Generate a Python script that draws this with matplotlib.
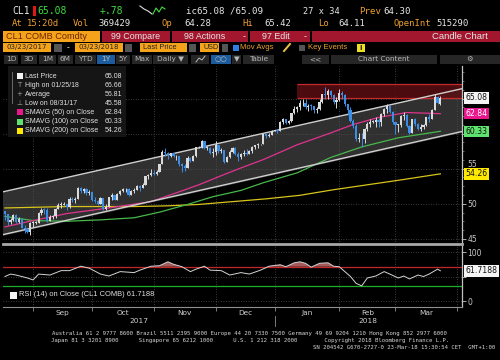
#!/usr/bin/env python3
# -*- coding: utf-8 -*-
"""
CL1 COMB Comdty candle chart, Bloomberg terminal style
"""
import matplotlib
matplotlib.use("Agg")
import matplotlib.pyplot as plt
import matplotlib.transforms as mtrans
from matplotlib.patches import Rectangle
import numpy as np
import pandas as pd

# ---- data -----------------------------------------------------------------
start_day = "2017-08-18"
end_axis_day = "2018-04-06"

# daily closes, one list per month
close_aug = [48.51, 47.37, 47.64, 48.41, 47.43, 47.87, 46.57, 46.44, 45.96, 47.23]
close_sep = [47.29, 47.29, 48.66, 49.16, 49.09, 47.48, 48.07, 48.23, 49.30, 49.89, 49.89,
             49.91, 49.48, 50.69, 50.55, 50.66, 52.22, 51.88, 52.14, 51.56, 51.67]
close_oct = [50.58, 50.42, 49.98, 50.79, 49.29, 49.58, 50.92, 51.30, 50.60, 51.45, 51.87,
             52.04, 52.04, 51.29, 51.84, 51.90, 52.47, 52.18, 52.64, 53.90, 54.15, 54.38]
close_nov = [54.30, 54.54, 55.64, 57.35, 57.20, 56.81, 57.17, 56.74, 56.76, 55.70, 55.33,
             55.14, 56.55, 56.09, 56.83, 58.02, 58.02, 58.95, 57.99, 57.99, 57.30, 57.40]
close_dec = [58.36, 57.47, 57.62, 55.96, 56.69, 57.36, 57.99, 57.14, 56.60, 57.04, 57.30,
             57.16, 57.46, 58.09, 58.36, 58.47, 58.47, 59.97, 59.64, 59.84, 60.42]
close_jan = [60.42, 60.37, 61.63, 62.01, 61.44, 61.73, 62.96, 63.57, 63.80, 64.30, 64.30,
             63.73, 63.97, 63.95, 63.37, 63.57, 64.47, 65.61, 65.51, 66.14, 65.56, 64.50, 64.73]
close_feb = [65.80, 65.45, 64.15, 63.39, 61.79, 61.15, 59.20, 59.29, 59.19, 60.60, 61.34,
             61.68, 61.68, 61.90, 61.68, 62.77, 63.55, 63.91, 63.01, 61.64]
close_mar = [61.25, 61.25, 62.57, 62.60, 61.15, 60.12, 62.04, 61.36, 60.71, 60.96, 61.19,
             62.34, 62.06, 63.40, 65.17, 64.30, 65.08]

high_aug = [48.75, 48.6, 47.9, 48.6, 48.5, 48.1, 47.9, 46.9, 46.6, 47.4]
high_sep = [47.6, 47.5, 48.8, 49.4, 49.4, 49.4, 48.4, 48.4, 49.4, 50.1, 50.2,
            50.3, 49.9, 50.9, 51.0, 51.0, 52.4, 52.4, 52.3, 52.2, 51.9]
high_oct = [51.7, 50.9, 50.6, 50.9, 50.7, 49.9, 51.0, 51.6, 51.3, 51.6, 52.0,
            52.3, 52.3, 52.3, 52.0, 52.3, 52.6, 52.7, 52.9, 54.0, 54.2, 54.9]
high_nov = [54.8, 54.8, 55.7, 57.7, 57.9, 57.4, 57.3, 57.3, 57.0, 56.8, 55.8,
            55.6, 56.8, 56.6, 56.9, 58.1, 58.3, 59.1, 59.0, 58.3, 58.1, 57.9]
high_dec = [58.9, 58.3, 57.9, 57.7, 56.8, 57.7, 58.1, 58.1, 57.4, 57.3, 57.6,
            57.8, 57.7, 58.2, 58.4, 58.6, 58.5, 60.0, 60.1, 60.1, 60.5]
high_jan = [60.5, 60.7, 61.8, 62.2, 62.0, 61.9, 63.0, 64.0, 64.0, 64.8, 64.9,
            64.9, 64.2, 64.2, 64.0, 63.8, 64.9, 65.7, 66.66, 66.4, 66.2, 65.6, 65.2]
high_feb = [66.3, 66.0, 65.7, 64.2, 63.8, 62.1, 61.4, 60.1, 60.1, 60.8, 61.6,
            62.1, 61.9, 62.3, 62.2, 62.9, 63.7, 64.2, 64.0, 63.2]
high_mar = [61.7, 61.4, 62.7, 63.1, 62.8, 61.2, 62.1, 62.2, 61.5, 61.3, 61.4,
            62.4, 62.8, 63.5, 65.7, 65.3, 65.42]

low_aug = [47.7, 47.0, 47.1, 47.6, 47.3, 47.3, 46.5, 45.9, 45.8, 45.58]
low_sep = [46.7, 47.1, 47.2, 48.4, 48.6, 47.4, 47.6, 47.8, 48.0, 49.2, 49.4,
           49.8, 49.1, 49.4, 50.2, 50.1, 50.7, 51.5, 51.6, 51.3, 51.3]
low_oct = [50.4, 50.1, 49.8, 49.9, 49.1, 49.1, 49.5, 50.6, 50.5, 50.6, 51.3,
           51.7, 51.7, 51.1, 51.2, 51.6, 51.9, 51.8, 52.2, 52.6, 53.5, 54.0]
low_nov = [54.1, 54.1, 54.5, 55.6, 56.8, 56.4, 56.6, 56.6, 56.3, 55.4, 54.5,
           54.7, 55.1, 56.0, 56.1, 56.7, 57.9, 57.9, 57.8, 57.6, 57.1, 56.7]
low_dec = [57.0, 57.3, 57.3, 55.8, 55.9, 56.5, 57.2, 57.0, 56.1, 56.4, 56.8,
           57.0, 57.1, 57.3, 57.8, 57.9, 58.4, 58.5, 59.4, 59.5, 59.8]
low_jan = [60.3, 60.1, 60.3, 61.4, 61.3, 61.3, 61.6, 62.8, 63.1, 63.4, 64.0,
           63.5, 63.2, 63.4, 63.0, 63.0, 63.4, 64.4, 64.9, 65.0, 65.2, 64.2, 63.7]
low_feb = [64.6, 65.0, 64.0, 62.7, 61.6, 60.8, 58.9, 58.8, 58.1, 58.7, 60.3,
           61.0, 61.5, 61.0, 61.0, 61.1, 62.5, 63.0, 62.9, 61.4]
low_mar = [60.0, 60.2, 61.0, 62.0, 61.0, 59.9, 60.1, 61.1, 60.5, 60.4, 60.7,
           61.1, 61.6, 62.1, 63.3, 64.2, 64.11]

first_open = 48.9
last_open = 64.28

# moving averages read at sample trading days (index from start_day)
sma50_day = [0, 10, 22, 37, 52, 62, 69, 77, 84, 92, 104, 116, 124, 133, 143, 155]
sma50_val = [46.7, 47.6, 48.6, 49.4, 50.3, 51.7, 52.7, 54.0, 55.1, 56.3, 58.4, 60.1,
             61.3, 62.3, 63.0, 62.84]
sma100_day = [0, 10, 22, 34, 46, 55, 65, 74, 84, 92, 104, 116, 127, 140, 155]
sma100_val = [48.2, 47.6, 47.5, 47.7, 48.0, 48.8, 49.9, 51.0, 51.9, 53.0, 54.4, 56.6,
              58.1, 59.4, 60.33]
sma200_day = [0, 22, 46, 58, 69, 81, 93, 105, 117, 129, 141, 155]
sma200_val = [49.4, 49.6, 49.6, 49.7, 49.9, 50.3, 50.7, 51.2, 52.0, 52.7, 53.4, 54.26]

# RSI(14) read at sample trading days
rsi_day = [0, 2, 4, 8, 10, 12, 16, 20, 23, 27, 30, 34, 37, 41, 46, 48, 52, 55, 58, 60,
           63, 66, 68, 71, 73, 77, 80, 84, 87, 91, 94, 98, 100, 103, 105, 107, 109, 112,
           115, 117, 119, 123, 125, 127, 129, 132, 135, 137, 140, 142, 144, 147, 149,
           151, 154, 155]
rsi_val = [50, 55, 53, 47, 43, 55, 53, 62, 62, 71, 67, 55, 51, 60, 58, 63, 71, 72, 80, 75,
           70, 60, 65, 71, 63, 62, 53, 58, 55, 63, 71, 74, 70, 78, 80, 77, 69, 77,
           78, 71, 70, 50, 36, 31, 47, 51, 60, 55, 47, 51, 45, 53, 50,
           55, 65, 61.72]

# trend channel (start / end trading day and price of lower and upper line)
channel_day = [-0.7, 162.7]
channel_low = [45.6, 60.3]
channel_high = [51.7, 66.4]

# red resistance zone
zone_day = 104
zone_low, zone_high = 65.1, 67.1

last_price, sma50_last, sma100_last, sma200_last = 65.08, 62.84, 60.33, 54.26
rsi_last = 61.7188
price_ticks = [45, 50, 55, 60, 65]
price_labels = ["45", "50", "55", "", ""]   # 60 and 65 sit under the value tags
rsi_ticks = [0, 50, 100]
rsi_labels = ["0", "", "100"]               # 50 sits under the RSI tag

closes = np.array(close_aug + close_sep + close_oct + close_nov + close_dec
                  + close_jan + close_feb + close_mar)
highs = np.array(high_aug + high_sep + high_oct + high_nov + high_dec
                 + high_jan + high_feb + high_mar)
lows = np.array(low_aug + low_sep + low_oct + low_nov + low_dec
                + low_jan + low_feb + low_mar)
opens = np.r_[first_open, closes[:-1]]
opens[-1] = last_open
highs = np.maximum(highs, np.maximum(opens, closes))
lows = np.minimum(lows, np.minimum(opens, closes))

axis_days = pd.bdate_range(start_day, end_axis_day)
days = np.arange(len(closes))
month_start = [i for i in range(1, len(axis_days))
               if axis_days[i].month != axis_days[i - 1].month]
month_names = [axis_days[i].strftime("%b") for i in month_start[:-1]]

# ---- colours ----------------------------------------------------------------
AMBER = "#f0a030"
CRIMSON = "#a3172e"
GRID = "#505050"
UP = "#dadada"
DOWN = "#3a8ee6"
PINK = "#e0338e"
GREEN = "#47b84a"
YELLOW = "#d8c41c"

fig = plt.figure(figsize=(5, 3.6), dpi=100, facecolor="black")
XLIM = (-0.7, 162.7)

# ---- price panel ----------------------------------------------------------
ax = fig.add_axes([0.006, 0.3222, 0.918, 0.4944], facecolor="black")
ax.set_xlim(*XLIM)
ax.set_ylim(44.26, 69.63)

ax.fill_between(channel_day, channel_low, channel_high, color="#303030", zorder=1)
for p in price_ticks:
    ax.axhline(p, color=GRID, lw=0.6, ls=(0, (1, 2)), zorder=1.5)
for m in month_start:
    ax.axvline(m, color=GRID, lw=0.6, ls=(0, (1, 2)), zorder=1.5)

ax.add_patch(Rectangle((zone_day, zone_low), XLIM[1] - zone_day, zone_high - zone_low,
                       fc="#5a0f12", ec="none", alpha=0.85, zorder=1.6))
ax.hlines([zone_low, zone_high], zone_day, XLIM[1], color="#c42a2c", lw=0.9, zorder=1.7)

ax.plot(sma200_day, sma200_val, color=YELLOW, lw=0.9, zorder=2)
ax.plot(sma100_day, sma100_val, color=GREEN, lw=0.9, zorder=2)
ax.plot(sma50_day, sma50_val, color=PINK, lw=0.9, zorder=2)
ax.plot(channel_day, channel_low, color="#cfcfcf", lw=1.0, zorder=2.5)
ax.plot(channel_day, channel_high, color="#cfcfcf", lw=1.0, zorder=2.5)

up = closes >= opens
colours = np.where(up, UP, DOWN)
ax.vlines(days, lows, highs, colors=colours, lw=0.7, zorder=3)
body = np.maximum(np.abs(closes - opens), 0.1)
ax.bar(days, body, width=0.78, bottom=np.minimum(opens, closes), color=colours,
       lw=0, zorder=3.5)

ax.yaxis.tick_right()
ax.set_yticks(price_ticks)
ax.set_yticklabels(price_labels)
ax.set_yticks(np.arange(45, 69, 1.25), minor=True)
ax.tick_params(axis="y", colors="#c8c8c8", labelsize=5.5, length=3, width=0.6, pad=1)
ax.tick_params(axis="y", which="minor", colors="#888888", length=1.5, width=0.5)
# "55" peeks out just above the SMA(200) tag, as on the terminal
ax.get_yticklabels()[2].set_verticalalignment("bottom")
ax.set_xticks([])
for s in ["top", "left"]:
    ax.spines[s].set_visible(False)
ax.spines["right"].set_color("#c0c0c0")
ax.spines["right"].set_linewidth(0.9)
ax.spines["bottom"].set_color("#a8a8a8")
ax.spines["bottom"].set_linewidth(2.0)

tagtr = mtrans.blended_transform_factory(ax.transAxes, ax.transData)
tags = [(last_price, "#f4f4f4", "#111111"), (sma50_last, "#e8178c", "#ffffff"),
        (sma100_last, "#5fe36e", "#111111"), (sma200_last, "#ffe900", "#111111")]
for val, bg, fg in tags:
    ax.text(1.008, val, f"{val:.2f}", transform=tagtr, fontsize=5.6, color=fg,
            va="center", ha="left", zorder=10, clip_on=False,
            bbox=dict(boxstyle="square,pad=0.16", fc=bg, ec="none"))

# ---- RSI panel --------------------------------------------------------------
rsi = fig.add_axes([0.006, 0.1472, 0.918, 0.1694], facecolor="black")
rsi.set_xlim(*XLIM)
rsi.set_ylim(-12.2, 112.2)
for m in month_start:
    rsi.axvline(m, color=GRID, lw=0.6, ls=(0, (1, 2)))
for v in rsi_ticks:
    rsi.axhline(v, color=GRID, lw=0.6, ls=(0, (1, 2)))
rsi.axhline(70, color="#c0272b", lw=0.9)
rsi.axhline(30, color="#1fae2a", lw=0.9)
rv = np.array(rsi_val, dtype=float)
rsi.fill_between(rsi_day, rv, 70, where=rv > 70, interpolate=True, color="#a65a5a",
                 lw=0)
rsi.plot(rsi_day, rv, color="#d4d4d4", lw=0.7)

rsi.yaxis.tick_right()
rsi.set_yticks(rsi_ticks)
rsi.set_yticklabels(rsi_labels)
rsi.tick_params(axis="y", colors="#c8c8c8", labelsize=5.5, length=3, width=0.6, pad=1)
mid = [(a + b) / 2 for a, b in zip(month_start[:-1], month_start[1:])]
rsi.set_xticks(mid)
rsi.set_xticklabels(month_names)
rsi.set_xticks(month_start, minor=True)
rsi.tick_params(axis="x", which="major", length=0, colors="#d0d0d0", labelsize=5.3,
                pad=2)
rsi.tick_params(axis="x", which="minor", length=3, color="#909090", width=0.6)
for s in ["top", "left"]:
    rsi.spines[s].set_visible(False)
rsi.spines["right"].set_color("#c0c0c0")
rsi.spines["right"].set_linewidth(0.9)
rsi.spines["bottom"].set_color("#909090")
rsi.spines["bottom"].set_linewidth(0.8)

yr = mtrans.blended_transform_factory(rsi.transData, rsi.transAxes)
jan = month_start[4]
rsi.text((XLIM[0] + jan) / 2, -0.23, "2017", transform=yr, color="#d0d0d0",
         fontsize=5.3, ha="center", va="center")
rsi.text((jan + XLIM[1]) / 2, -0.23, "2018", transform=yr, color="#d0d0d0",
         fontsize=5.3, ha="center", va="center")
rsi.plot([jan, jan], [-0.15, -0.31], transform=yr, color="#909090", lw=0.6,
         clip_on=False)
rtr = mtrans.blended_transform_factory(rsi.transAxes, rsi.transData)
rsi.text(1.008, rsi_last, f"{rsi_last:.4f}", transform=rtr, fontsize=5.6,
         color="#111111", va="center", ha="left", zorder=10, clip_on=False,
         bbox=dict(boxstyle="square,pad=0.16", fc="#f4f4f4", ec="none"))

# ---- overlay in pixel coordinates (header, legend, footer) ---------------
ov = fig.add_axes([0, 0, 1, 1], facecolor="none", zorder=5)
ov.set_xlim(0, 500)
ov.set_ylim(360, 0)
ov.axis("off")


def txt(x, y, s, c="#e6e6e6", size=6, ha="left", family="DejaVu Sans", **kw):
    ov.text(x, y, s, color=c, fontsize=size, ha=ha, va="center", family=family, **kw)


def box(x0, x1, y0, y1, fc):
    ov.add_patch(Rectangle((x0, y0), x1 - x0, y1 - y0, fc=fc, ec="none"))


MONO = "DejaVu Sans Mono"
NARROW = "Liberation Sans"
# row 1
txt(12, 11, "CL1", size=7, family=MONO)
box(33, 35.5, 6, 16, "#e01818")
txt(37, 11, "65.08", c="#3fdc3f", size=7, family=MONO)
txt(100, 11, "+.78", c="#3fdc3f", size=7, family=MONO)
ov.plot([140, 144, 148, 152], [6, 9, 11, 14], color="#e0e0e0", lw=0.8)
ov.plot([153, 156, 159, 162, 165], [14, 8, 12, 7, 9], color="#3fdc3f", lw=0.8)
txt(186, 11, "ic65.08 /65.09", size=6.6, family=MONO)
txt(303, 11, "27 x 34", size=6.2, family=MONO)
txt(359, 11, "Prev", c=AMBER, size=6.6, family=MONO)
txt(383, 11, "64.30", size=6.6, family=MONO)
# row 2
row2 = [(12, "At", AMBER), (27, "15:20d", AMBER), (73, "Vol", AMBER),
        (98, "369429", "#e6e6e6"), (162, "Op", AMBER), (184, "64.28", "#e6e6e6"),
        (242, "Hi", AMBER), (264, "65.42", "#e6e6e6"), (318, "Lo", AMBER),
        (338, "64.11", "#e6e6e6"), (393, "OpenInt", AMBER), (436, "515290", "#e6e6e6")]
for x, s, c in row2:
    txt(x, 24, s, c=c, size=6.4, family=MONO)

# row 3: function bar
box(3, 100, 31, 41.5, "#f6a31c")
txt(6, 36.3, "CL1 COMB Comdty", c="#6b2400", size=6.6, family=NARROW)
box(102, 170, 31, 41.5, CRIMSON)
txt(136, 36.3, "99 Compare", size=6.4, ha="center", family=NARROW)
box(172, 248, 31, 41.5, CRIMSON)
txt(205, 36.3, "98 Actions", size=6.4, ha="center", family=NARROW)
txt(244, 36.3, "-", size=6.0, ha="center")
box(250, 310, 31, 41.5, CRIMSON)
txt(276, 36.3, "97 Edit", size=6.4, ha="center", family=NARROW)
txt(305, 36.3, "-", size=6.0, ha="center")
box(312, 500, 31, 41.5, CRIMSON)
txt(488, 36.3, "Candle Chart", size=6.8, ha="right", family=NARROW)

# row 4: dates and options
box(3, 51, 43, 52, "#f6a31c")
txt(27, 47.5, "03/23/2017", c="#222222", size=5.0, ha="center")
box(54, 62, 43.5, 51.5, "#555555")
txt(68, 47.5, "-", size=5.5, ha="center")
box(75, 123, 43, 52, "#f6a31c")
txt(99, 47.5, "03/23/2018", c="#222222", size=5.0, ha="center")
box(125, 132, 43.5, 51.5, "#555555")
box(140, 187, 43, 52, "#f6a31c")
txt(143, 47.5, "Last Price", c="#222222", size=5.4, family=NARROW)
box(189, 196, 43.5, 51.5, "#555555")
box(200, 219, 43, 52, "#f6a31c")
txt(203, 47.5, "USD", c="#222222", size=5.2, family=NARROW)
box(222, 228, 43.5, 51.5, "#555555")
box(233, 238.5, 45, 50.5, "#2f7fe0")
txt(240, 47.5, "Mov Avgs", c=AMBER, size=5.6, family=NARROW)
ov.plot([284, 290], [51, 44], color="#f0c040", lw=1.4)
box(299, 304.5, 45, 50.5, "#555555")
txt(308, 47.5, "Key Events", c=AMBER, size=5.6, family=NARROW)
box(357, 365, 43.5, 51.5, "#f0e020")
txt(361, 47.5, "i", c="#222222", size=5.0, ha="center", weight="bold")

# row 5: range buttons
buttons = [(4, 18, "1D"), (21, 37, "3D"), (39, 56, "1M"), (58, 73, "6M"), (75, 96, "YTD"),
           (97, 115, "1Y"), (116, 130, "5Y"), (132, 152, "Max"), (153, 188, "Daily \u25bc"),
           (191, 209, ""), (211, 231, "\u25cb\u25cb"), (232, 241, "\u25bc"),
           (243, 274, "Table"), (302, 329, "<<"), (331, 437, "Chart Content"),
           (440, 500, "\u2699")]
for x0, x1, s in buttons:
    fc = "#1d5c9c" if s in ("1Y", "\u25cb\u25cb") else "#262626"
    box(x0, x1, 54.5, 64, fc)
    if s:
        txt((x0 + x1) / 2, 59.3, s, c="#b8b8b8", size=5.3, ha="center")
ov.plot([196, 199, 202, 205], [62, 58, 60, 56], color="#b8b8b8", lw=0.7)

# legend box inside the price panel
box(8, 126, 66, 137, "#151515")
ov.plot([12, 12], [72, 103], color="#777777", lw=0.6)
legend_rows = [("Last Price", "65.08", "#f4f4f4"),
               ("High on 01/25/18", "66.66", None),
               ("Average", "56.81", None),
               ("Low on 08/31/17", "45.58", None),
               ("SMAVG (50) on Close", "62.84", "#e8178c"),
               ("SMAVG (100) on Close", "60.33", "#5fe36e"),
               ("SMAVG (200) on Close", "54.26", "#ffe900")]
glyphs = ["", "T", "+", "\u22a5", "", "", ""]
for k, (name, val, sq) in enumerate(legend_rows):
    y = 76 + k * 9.1
    if sq:
        box(16.5, 22.5, y - 3, y + 3, sq)
    else:
        txt(19.5, y, glyphs[k], c="#9a9a9a", size=5.0, ha="center")
    txt(25, y, name, c="#e0e0e0", size=5.0, family=NARROW)
    txt(122, y, val, c="#e0e0e0", size=5.0, ha="right", family=NARROW)

# RSI legend
box(10, 17, 291.5, 298.5, "#f4f4f4")
txt(19, 295, "RSI (14) on Close (CL1 COMB) 61.7188", c="#e0e0e0", size=5.4,
    family=NARROW)

# footer
foot1 = ("Australia 61 2 9777 8600 Brazil 5511 2395 9000 Europe 44 20 7330 7500 "
         "Germany 49 69 9204 1210 Hong Kong 852 2977 6000")
foot2 = ("Japan 81 3 3201 8900      Singapore 65 6212 1000      U.S. 1 212 318 2000"
         "        Copyright 2018 Bloomberg Finance L.P.")
foot3 = "SN 204542 G670-2727-0 23-Mar-18 15:30:54 CET  GMT+1:00"
txt(249, 333.5, foot1, c="#d8d8d8", size=4.1, ha="center", family=MONO)
txt(51, 340.5, foot2, c="#d8d8d8", size=4.1, family=MONO)
txt(495, 347.5, foot3, c="#d8d8d8", size=4.1, ha="right", family=MONO)

plt.savefig("out.png", dpi=100, facecolor="black")
